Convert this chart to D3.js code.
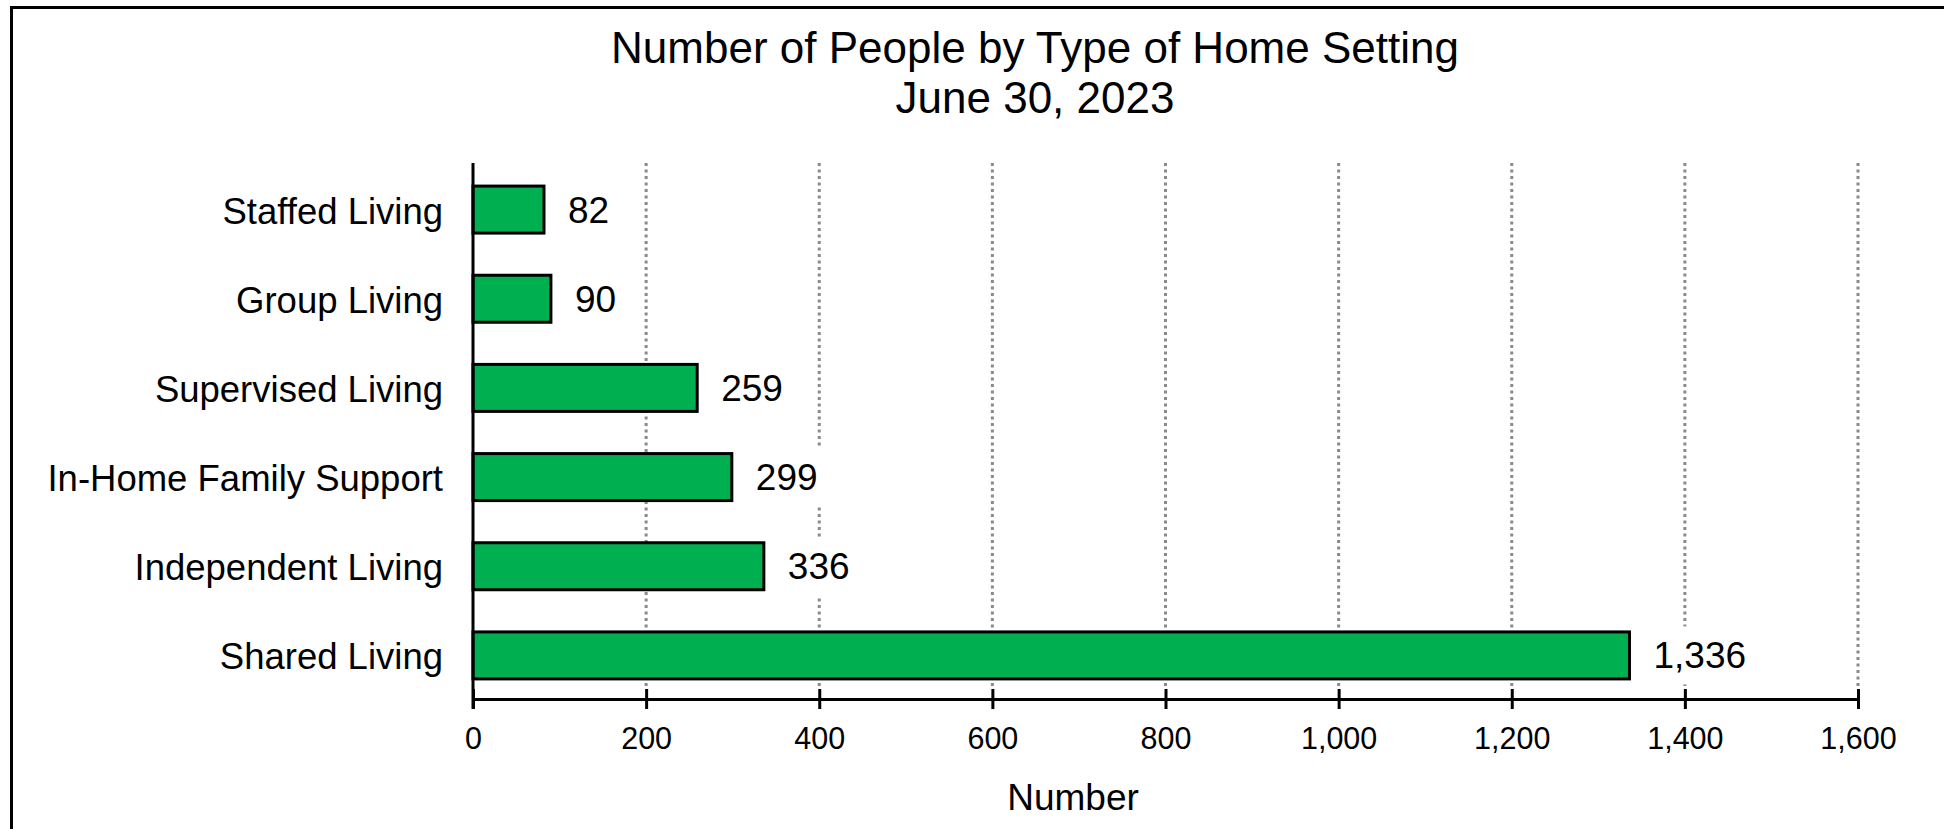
<!DOCTYPE html>
<html>
<head>
<meta charset="utf-8">
<script src="https://cdn.jsdelivr.net/npm/d3@7/dist/d3.min.js"></script>
<style>
  html, body { margin: 0; padding: 0; background: #fff; }
  svg { display: block; }
  text { font-family: "Liberation Sans", Arial, sans-serif; fill: #000; }
</style>
</head>
<body>
<svg id="chart" width="1944" height="829"></svg>
<script>
// ---- data ----
const categories = ["Staffed Living", "Group Living", "Supervised Living", "In-Home Family Support", "Independent Living", "Shared Living"];
const values = [82, 90, 259, 299, 336, 1336];
const xTicks = [0, 200, 400, 600, 800, 1000, 1200, 1400, 1600];
const titleLines = ["Number of People by Type of Home Setting", "June 30, 2023"];
const xAxisTitle = "Number";

// ---- layout ----
const W = 1944, H = 829;
const plot = { left: 473, right: 1858, top: 163, bottom: 699 };
const svg = d3.select("#chart");

const x = d3.scaleLinear().domain([0, 1600]).range([plot.left, plot.right]);
const y = d3.scaleBand().domain(categories).range([165, 700]).padding(0);
const barH = 47;

// frame (left + top border)
svg.append("path")
  .attr("d", `M11.5,${H} L11.5,7.5 L${W},7.5`)
  .attr("fill", "none").attr("stroke", "#000").attr("stroke-width", 3);

// title
svg.append("g").selectAll("text").data(titleLines).join("text")
  .attr("x", 1035).attr("y", (d, i) => 63 + i * 50)
  .attr("text-anchor", "middle")
  .style("font-size", "44px")
  .text(d => d);

// gridlines
svg.append("g").selectAll("line").data(xTicks.filter(t => t > 0)).join("line")
  .attr("x1", d => x(d)).attr("x2", d => x(d))
  .attr("y1", plot.top).attr("y2", plot.bottom - 10)
  .attr("stroke", "#8a8a8a").attr("stroke-width", 3)
  .attr("stroke-dasharray", "3,3.5");

// bars
const data = categories.map((c, i) => ({ c, v: values[i] }));
svg.append("g").selectAll("rect").data(data).join("rect")
  .attr("x", x(0))
  .attr("y", d => y(d.c) + (y.bandwidth() - barH) / 2)
  .attr("width", d => x(d.v) - x(0))
  .attr("height", barH)
  .attr("fill", "#00b050")
  .attr("stroke", "#000").attr("stroke-width", 3);

// value labels with white background boxes
const fmt = d3.format(",");
const lblG = svg.append("g");
const lbl = lblG.selectAll("g").data(data).join("g");
const lblText = lbl.append("text")
  .attr("x", d => x(d.v) + 24)
  .attr("y", d => y(d.c) + y.bandwidth() / 2 + 13)
  .style("font-size", "37px")
  .text(d => fmt(d.v));
lbl.each(function(d) {
  const t = d3.select(this).select("text");
  const bb = t.node().getBBox();
  d3.select(this).insert("rect", "text")
    .attr("x", bb.x - 6).attr("width", bb.width + 12)
    .attr("y", y(d.c) + y.bandwidth() / 2 - 29).attr("height", 58)
    .attr("fill", "#fff");
});

// x axis
const xAxis = d3.axisBottom(x).tickValues(xTicks).tickFormat(fmt).tickSizeOuter(0).tickSize(10);
const gx = svg.append("g").attr("transform", `translate(0,${plot.bottom})`).call(xAxis);
gx.select(".domain").attr("stroke", "#000").attr("stroke-width", 3);
gx.selectAll(".tick line").attr("y1", -10).attr("y2", 10).attr("stroke", "#000").attr("stroke-width", 3);
gx.selectAll(".tick text")
  .attr("y", 50).attr("dy", null)
  .style("font-size", "30.5px")
  .style("font-family", "'Liberation Sans', Arial, sans-serif")
  .attr("fill", "#000");

// y axis
const yAxis = d3.axisLeft(y).tickSize(0).tickPadding(30);
const gy = svg.append("g").attr("transform", `translate(${plot.left},0)`).call(yAxis);
gy.select(".domain").remove();
gy.selectAll(".tick text")
  .attr("dy", null).attr("y", 14)
  .style("font-size", "36.5px")
  .style("font-family", "'Liberation Sans', Arial, sans-serif")
  .attr("fill", "#000");
svg.append("line")
  .attr("x1", plot.left).attr("x2", plot.left)
  .attr("y1", plot.top).attr("y2", plot.bottom + 10)
  .attr("stroke", "#000").attr("stroke-width", 3);

// axis title
svg.append("text")
  .attr("x", 1073).attr("y", 810)
  .attr("text-anchor", "middle")
  .style("font-size", "37px")
  .text(xAxisTitle);
</script>
</body>
</html>
